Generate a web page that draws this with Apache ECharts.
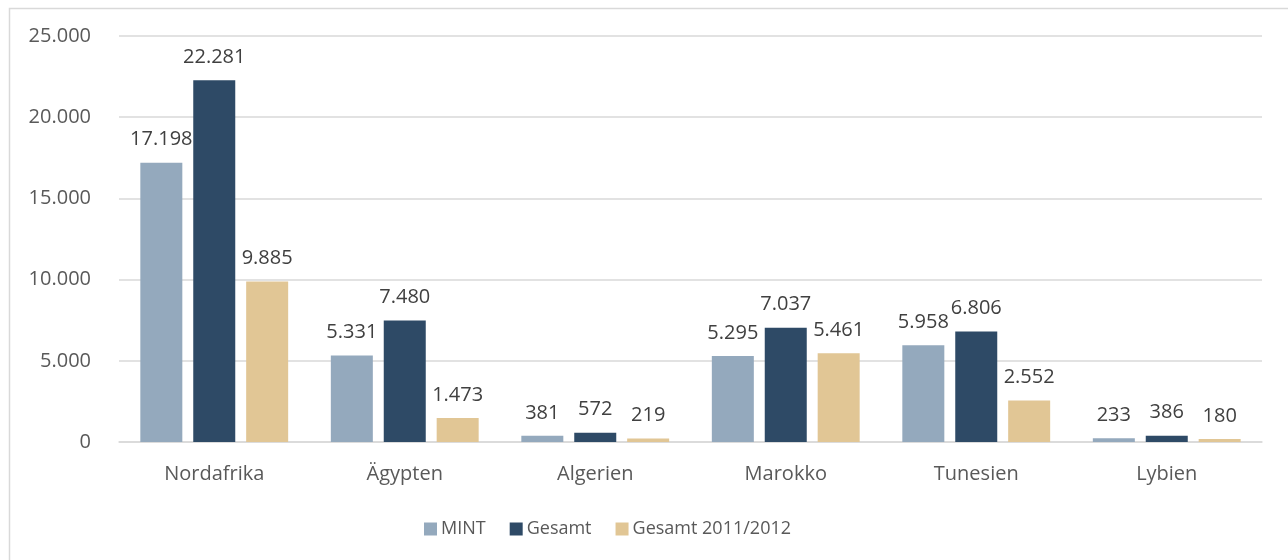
<!DOCTYPE html>
<html>
<head>
<meta charset="utf-8">
<script src="https://cdn.jsdelivr.net/npm/echarts@6/dist/echarts.min.js"></script>
<style>
html,body{margin:0;padding:0;background:#fff;}
#c{width:1288px;height:560px;}
</style>
</head>
<body>
<div id="c"></div>
<script>
const categories = ["Nordafrika", "Ägypten", "Algerien", "Marokko", "Tunesien", "Lybien"];
const mint = [17198, 5331, 381, 5295, 5958, 233];
const gesamt = [22281, 7480, 572, 7037, 6806, 386];
const gesamt2011 = [9885, 1473, 219, 5461, 2552, 180];
const seriesNames = ["MINT", "Gesamt", "Gesamt 2011/2012"];
const colors = ["#94a9bd", "#2e4a66", "#e1c695"];

function fmt(v) {
  return String(v).replace(/\B(?=(\d{3})+(?!\d))/g, ".");
}
const FONT = "Open Sans";
const chart = echarts.init(document.getElementById('c'), null, {renderer: 'canvas'});
const mk = (name, data, i) => ({
  name: name,
  type: 'bar',
  data: data,
  barWidth: 42,
  barGap: '26%',
  itemStyle: {color: colors[i]},
  label: {
    show: true, position: 'top', distance: 13,
    color: '#404040', fontFamily: FONT, fontSize: 20,
    formatter: p => fmt(p.value)
  }
});
chart.setOption({
  animation: false,
  color: colors,
  graphic: [{
    type: 'rect', left: 7, top: 6,
    shape: {width: 1300, height: 600},
    style: {fill: 'none', stroke: '#d9d9d9', lineWidth: 1.5},
    silent: true
  }],
  grid: {left: 119, right: 26, top: 36, bottom: 118, containLabel: false},
  legend: {
    bottom: 17, left: 419,
    itemWidth: 13, itemHeight: 13, itemGap: 24,
    icon: 'rect',
    textStyle: {color: '#595959', fontFamily: FONT, fontSize: 18, padding: [0, 0, 0, -1]},
    data: seriesNames
  },
  xAxis: {
    type: 'category', data: categories,
    axisLine: {lineStyle: {color: '#d9d9d9', width: 1.5}},
    axisTick: {show: false},
    axisLabel: {color: '#595959', fontFamily: FONT, fontSize: 20, margin: 22}
  },
  yAxis: {
    type: 'value', min: 0, max: 25000, interval: 5000,
    axisLine: {show: false}, axisTick: {show: false},
    splitLine: {lineStyle: {color: '#d9d9d9', width: 1.5}},
    axisLabel: {color: '#595959', fontFamily: FONT, fontSize: 20, margin: 28, formatter: v => fmt(v)}
  },
  series: [mk(seriesNames[0], mint, 0), mk(seriesNames[1], gesamt, 1), mk(seriesNames[2], gesamt2011, 2)]
});
</script>
</body>
</html>
